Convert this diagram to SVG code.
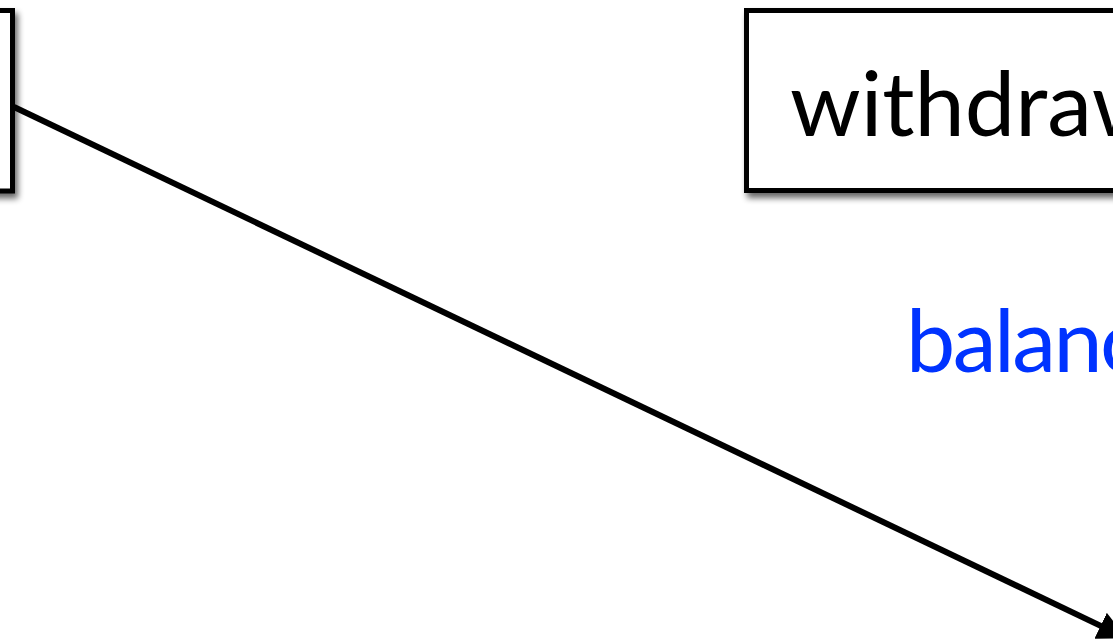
<svg xmlns="http://www.w3.org/2000/svg" width="1113" height="643" viewBox="0 0 1113 643">
<style>
.box{fill:#fff;stroke:#000;stroke-width:5;filter:url(#sh)}
.lbl{font-family:Lato,"Liberation Sans",sans-serif;font-size:90px;fill:#000}
.blue{font-family:Lato,"Liberation Sans",sans-serif;font-size:88px;letter-spacing:-2.5px;fill:#0033ff}
.conn{stroke:#000;stroke-width:6;fill:none}
</style>
<defs>
<filter id="sh" x="-10%" y="-10%" width="130%" height="130%">
<feGaussianBlur in="SourceAlpha" stdDeviation="3"/>
<feOffset dx="3" dy="5" result="b"/>
<feComponentTransfer><feFuncA type="linear" slope="0.6"/></feComponentTransfer>
<feMerge><feMergeNode/><feMergeNode in="SourceGraphic"/></feMerge>
</filter>
<marker id="ah" viewBox="0 0 10 10" refX="9" refY="5" markerWidth="4.8" markerHeight="4.8" markerUnits="strokeWidth" orient="auto">
<path d="M0,0 L10,5 L0,10 Z" fill="#000"/>
</marker>
</defs>
<g id="node-left">
<rect class="box" x="-300" y="10.5" width="312.5" height="180.5"/>
</g>
<g id="node-withdraw">
<rect class="box" x="746.5" y="10.5" width="500" height="180"/>
<text class="lbl" x="790" y="136">withdraw</text>
</g>
<g id="label-balance">
<text class="blue" x="906" y="372">balance</text>
</g>
<g id="connectors">
<line class="conn" x1="14" y1="107" x2="1124" y2="637" marker-end="url(#ah)"/>
</g>
</svg>
